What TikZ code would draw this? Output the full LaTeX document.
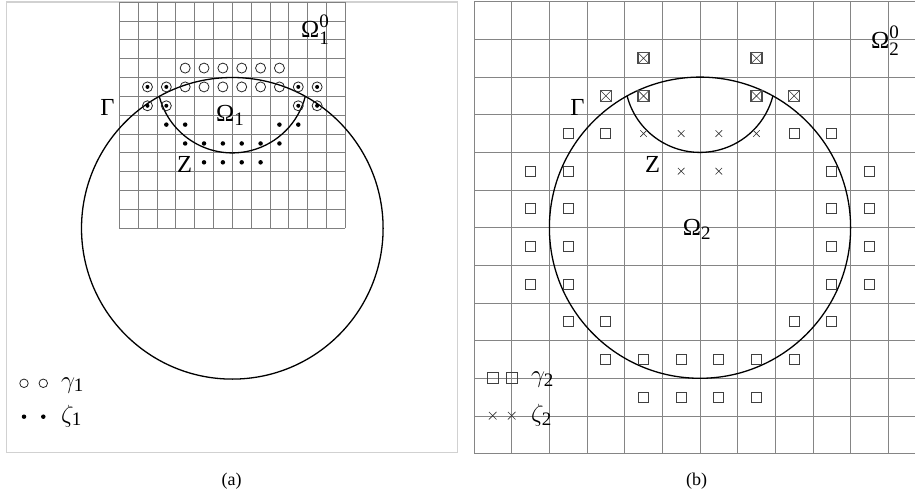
\documentclass[tikz,border=0pt]{standalone}
\usepackage{amsmath}
\usepackage{fontspec}
\setmainfont{Liberation Serif}
\DeclareMathSizes{24.5}{24.5}{19}{14}
\DeclareMathSizes{27}{27}{19}{14}
\usetikzlibrary{shapes.misc}
\tikzset{
  framegray/.style={draw=black!18,line width=1.1pt},
  gridA/.style={draw=black!50,line width=0.8pt,step=1},
  gridB/.style={draw=black!48,line width=0.9pt,step=1},
  curve/.style={draw=black,line width=1.3pt},
  lbl/.style={font=\fontsize{24.5}{28}\selectfont,inner sep=0pt},
  lglbl/.style={font=\fontsize{27}{31}\selectfont,inner sep=0pt,anchor=base west},
  captext/.style={font=\fontsize{18}{21}\selectfont,inner sep=0pt},
  ocm/.style={circle,draw=black!85,line width=0.8pt,inner sep=0pt,minimum size=10pt},
  dotin/.style={path picture={\fill (path picture bounding box.center) circle[radius=2pt];}},
  dotm/.style={circle,fill=black,inner sep=0pt,minimum size=4.5pt},
  sqm/.style={rectangle,draw=black!75,line width=0.9pt,inner sep=0pt,minimum size=10pt},
  sqx/.style={rectangle,draw=black!70,line width=1.3pt,inner sep=0pt,minimum size=11pt,
    path picture={\draw[line width=0.6pt,black!80] (path picture bounding box.south west) -- (path picture bounding box.north east) (path picture bounding box.north west) -- (path picture bounding box.south east);}},
  xm/.style={cross out,draw=black!80,line width=0.6pt,inner sep=0pt,minimum size=6pt}
}
\begin{document}
\begin{tikzpicture}[x=1pt,y=-1pt]
\useasboundingbox (0,0) rectangle (915,497);
% ---------------- panel (a)
\draw[framegray] (6.7,2) rectangle (457.7,452.5);
\begin{scope}[shift={(232.3,228.3)},x=18.85pt,y=18.85pt]
  \draw[gridA] (-6,0) grid (6,12);
  \draw[curve] (0,0) circle[radius=8];
  \draw[curve] (0,8) ++(194.48:4) arc[start angle=194.48,end angle=345.52,radius=4];
  \foreach \x [count=\i] in {-2.5,-1.5,...,2.5} {
    \node[ocm] (oA\i) at (\x,8.5) {};
    \node[ocm] (oB\i) at (\x,7.5) {};
    \node[dotm] (dB\i) at (\x,4.5) {};
  }
  \foreach \x [count=\i] in {-4.5,-3.5,3.5,4.5} {
    \node[ocm,dotin] (odA\i) at (\x,7.5) {};
    \node[ocm,dotin] (odB\i) at (\x,6.5) {};
  }
  \foreach \x [count=\i] in {-3.5,-2.5,2.5,3.5} {
    \node[dotm] (dA\i) at (\x,5.5) {};
  }
  \foreach \x [count=\i] in {-1.5,-0.5,0.5,1.5} {
    \node[dotm] (dC\i) at (\x,3.5) {};
  }
\end{scope}
\node[lbl] (GamA) at (107.5,107.5) {Γ};
\node[lbl] (ZA) at (184.7,164.2) {Z};
\node[lbl,anchor=base west] (OmA) at (216,121.7) {$\text{Ω}_{\text{1}}$};
\node[lbl,anchor=base west] (OmA0) at (301,37.3) {$\text{Ω}_{\text{1}}^{\text{0}}$};
% legend (a)
\node[ocm,minimum size=8.5pt] (lgA1) at (24,383.3) {};
\node[ocm,minimum size=8.5pt] (lgA2) at (43.3,383.3) {};
\node[lglbl] (lgAt1) at (61,388) {$\gamma_{\text{1}}$};
\node[dotm] (lgA3) at (24,416.7) {};
\node[dotm] (lgA4) at (43.3,416.7) {};
\node[lglbl] (lgAt2) at (61,422) {$\zeta_{\text{1}}$};
\node[captext] (capA) at (231.7,481) {(a)};
% ---------------- panel (b)
\begin{scope}
  \clip (470,0) rectangle (915,460);
  \begin{scope}[shift={(700,227.7)},x=37.65pt,y=37.65pt]
    \draw[gridB] (-6,-6) grid (6,6);
  \end{scope}
\end{scope}
\begin{scope}[shift={(700,227.7)},x=37.65pt,y=37.65pt]
  \draw[curve] (0,0) circle[radius=4];
  \draw[curve] (0,4) ++(194.48:2) arc[start angle=194.48,end angle=345.52,radius=2];
  \foreach \x [count=\i] in {-1.5,1.5} { \node[sqx] (qA\i) at (\x,4.5) {}; }
  \foreach \x [count=\i] in {-2.5,-1.5,1.5,2.5} { \node[sqx] (qB\i) at (\x,3.5) {}; }
  \foreach \x [count=\i] in {-3.5,-2.5,2.5,3.5} {
    \node[sqm] (sA\i) at (\x,2.5) {};
    \node[sqm] (sB\i) at (\x,-2.5) {};
  }
  \foreach \x [count=\i] in {-1.5,-0.5,0.5,1.5} {
    \node[xm] (xA\i) at (\x,2.5) {};
    \node[sqm] (sC\i) at (\x,-4.5) {};
  }
  \foreach \x [count=\i] in {-0.5,0.5} { \node[xm] (xB\i) at (\x,1.5) {}; }
  \foreach \y [count=\j] in {1.5,0.5,-0.5,-1.5} {
    \foreach \x [count=\i] in {-4.5,-3.5,3.5,4.5} {
      \node[sqm] (sD\j\i) at (\x,\y) {};
    }
  }
  \foreach \x [count=\i] in {-2.5,-1.5,-0.5,0.5,1.5,2.5} { \node[sqm] (sE\i) at (\x,-3.5) {}; }
\end{scope}
\node[lbl] (GamB) at (577.5,107.5) {Γ};
\node[lbl] (ZB) at (652.5,164.2) {Z};
\node[lbl,anchor=base west] (OmB) at (682.6,235) {$\text{Ω}_{\text{2}}$};
\node[lbl,anchor=base west] (OmB0) at (871,48.3) {$\text{Ω}_{\text{2}}^{\text{0}}$};
% legend (b)
\node[sqm,minimum size=11pt] (lgB1) at (492.7,377.7) {};
\node[sqm,minimum size=11pt] (lgB2) at (511.7,377.7) {};
\node[lglbl] (lgBt1) at (531,382.5) {$\gamma_{\text{2}}$};
\node[xm,minimum size=7pt] (lgB3) at (492.7,415.7) {};
\node[xm,minimum size=7pt] (lgB4) at (511.7,415.7) {};
\node[lglbl] (lgBt2) at (531,421) {$\zeta_{\text{2}}$};
\node[captext] (capB) at (696.7,481) {(b)};
\end{tikzpicture}
\end{document}
